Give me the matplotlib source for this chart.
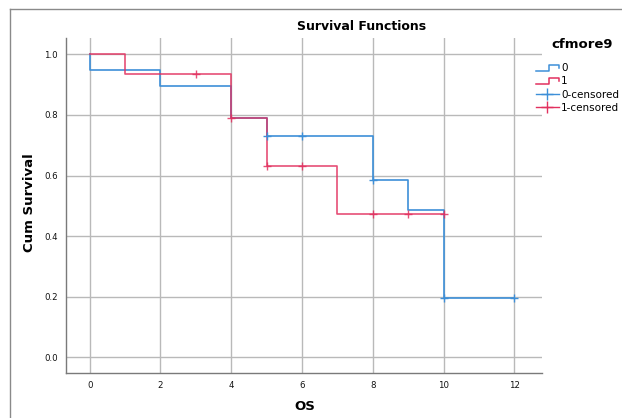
import matplotlib
matplotlib.use("Agg")
import matplotlib.pyplot as plt
from matplotlib.lines import Line2D
from matplotlib.legend_handler import HandlerBase

# Kaplan-Meier estimates
t0 = [0, 0, 2, 4, 5, 8, 9, 10, 12]
s0 = [1.0, 0.949, 0.896, 0.789, 0.730, 0.584, 0.487, 0.195, 0.195]
t0_cens = [5, 6, 8, 10, 12]
s0_cens = [0.730, 0.730, 0.584, 0.195, 0.195]

t1 = [0, 1, 4, 5, 7, 10]
s1 = [1.0, 0.935, 0.789, 0.632, 0.474, 0.474]
t1_cens = [3, 4, 5, 6, 8, 9, 10]
s1_cens = [0.935, 0.789, 0.632, 0.632, 0.474, 0.474, 0.474]

blue = "#3d8fd8"
red = "#e2305f"
grid_c = "#b9b9b9"


class StepHandler(HandlerBase):
    # small step icon like SPSS legend
    def create_artists(self, legend, orig_handle, xd, yd, w, h, fontsize, trans):
        xs = [xd, xd + w * 0.55, xd + w * 0.55, xd + w, xd + w]
        ys = [yd, yd, yd + h * 0.85, yd + h * 0.85, yd + h * 0.45]
        ln = Line2D(xs, ys, color=orig_handle.get_color(), lw=1.1, transform=trans)
        return [ln]


fig = plt.figure(figsize=(6.22, 4.18), dpi=100)
ax = fig.add_axes([66 / 622, 1 - 373 / 418, (542 - 66) / 622, (373 - 38) / 418])

ax.step(t0, s0, where="post", color=blue, lw=1.2, zorder=3)
ax.step(t1, s1, where="post", color=red, lw=1.2, alpha=0.85, zorder=4)
ax.plot(t0_cens, s0_cens, ls="none", marker="+", ms=6, mew=1.0, color=blue, zorder=5)
ax.plot(t1_cens, s1_cens, ls="none", marker="+", ms=6, mew=1.0, color=red, alpha=0.85, zorder=6)

ax.set_xlim(-0.67, 12.78)
ax.set_ylim(-0.052, 1.054)
ax.set_xticks(range(0, 13, 2))
ax.set_yticks([0.0, 0.2, 0.4, 0.6, 0.8, 1.0])
ax.set_yticklabels(["0.0", "0.2", "0.4", "0.6", "0.8", "1.0"])
ax.tick_params(length=0, labelsize=6.2, colors="#111111", pad=6)
ax.grid(True, color=grid_c, lw=1.0)
ax.set_axisbelow(True)
for s in ["top", "right"]:
    ax.spines[s].set_visible(False)
for s in ["left", "bottom"]:
    ax.spines[s].set_color("#7a7a7a")
    ax.spines[s].set_linewidth(1.0)

fig.text(362 / 622, 1 - 27 / 418, "Survival Functions", ha="center", va="center",
         fontsize=9, fontweight="bold")
fig.text(305 / 622, 1 - 407 / 418, "OS", ha="center", va="center",
         fontsize=9.5, fontweight="bold")
fig.text(30 / 622, 1 - 203 / 418, "Cum Survival", ha="center", va="center",
         rotation=90, fontsize=9.5, fontweight="bold")

# outer frame (top and left edges visible)
fig.add_artist(Line2D([10 / 622, 10 / 622], [0, 1 - 9 / 418], color="#8a8a8a", lw=1.0))
fig.add_artist(Line2D([10 / 622, 1], [1 - 9 / 418, 1 - 9 / 418], color="#8a8a8a", lw=1.0))

# legend
fig.text(582 / 622, 1 - 45 / 418, "cfmore9", ha="center", va="center",
         fontsize=9.5, fontweight="bold")
h0 = Line2D([], [], color=blue)
h1 = Line2D([], [], color=red)
hc0 = Line2D([], [], color=blue, marker="+", ms=8, mew=1.0, lw=1.0)
hc1 = Line2D([], [], color=red, marker="+", ms=8, mew=1.0, lw=1.0)
leg = fig.legend([h0, h1, hc0, hc1], ["0", "1", "0-censored", "1-censored"],
                 handler_map={h0: StepHandler(), h1: StepHandler()},
                 loc="upper left", bbox_to_anchor=(536 / 622, 1 - 63 / 418),
                 frameon=False, fontsize=7.5,
                 handlelength=2.2, handletextpad=0.2, labelspacing=0.32,
                 borderaxespad=0, borderpad=0)

fig.savefig("out.png", dpi=100)
